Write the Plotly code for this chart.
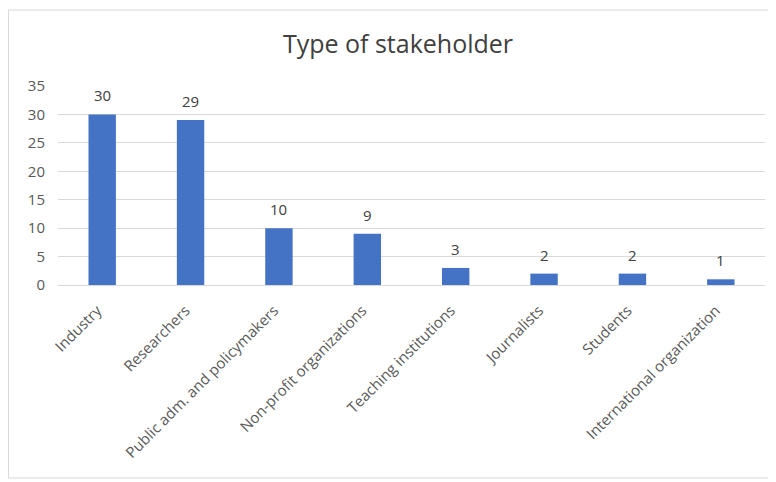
import plotly.graph_objects as go

categories = ["Industry", "Researchers", "Public adm. and policymakers", "Non-profit organizations",
              "Teaching institutions", "Journalists", "Students", "International organization"]
values = [30, 29, 10, 9, 3, 2, 2, 1]
y_ticks = [0, 5, 10, 15, 20, 25, 30, 35]

# page body has an 8px offset; figure fills the rest of the window
OFF = 8
W, H = 776 - OFF, 482 - OFF
L, R, T, B = 58 - OFF, 11, 86 - OFF, 197
ph = H - T - B
pw = W - L - R

fig = go.Figure(go.Bar(
    x=categories, y=values, marker=dict(color="#4472C4", line=dict(width=0)),
))

for c, v in zip(categories, values):
    fig.add_annotation(x=c, y=v, text=str(v), showarrow=False, yanchor="bottom", yshift=7,
                       font=dict(size=15, color="#404040", family="Open Sans"))

fig.update_layout(
    width=W, height=H,
    margin=dict(l=L, r=R, t=T, b=B, autoexpand=False),
    paper_bgcolor="white", plot_bgcolor="white",
    bargap=0.69,
    title=dict(text="Type of stakeholder", x=(398 - OFF) / W, xref="container", xanchor="center",
               y=1 - (44 - OFF) / H, yanchor="middle",
               font=dict(size=25, color="#404040", family="Open Sans")),
    font=dict(family="Open Sans", color="#595959"),
    xaxis=dict(tickangle=-45, tickfont=dict(size=15, color="#595959"), showline=True,
               linecolor="#D9D9D9", ticks="", showgrid=False, automargin=False,
               ticklabelshift=-5, ticklabelstandoff=10),
    yaxis=dict(range=[0, 35], tickvals=y_ticks, showgrid=True, gridcolor="#D9D9D9",
               tickfont=dict(size=15, color="#595959"), zeroline=False, ticks="",
               ticklabelstandoff=12, automargin=False),
    showlegend=False,
    shapes=[dict(type="rect", xref="paper", yref="paper",
                 x0=(0.5 - L) / pw, x1=(W + 5 - L) / pw,
                 y0=(T + ph - (478 - OFF)) / ph, y1=(T + ph - (10 - OFF)) / ph,
                 line=dict(color="#D9D9D9", width=1), layer="below")],
)

fig.write_html("out.html")
